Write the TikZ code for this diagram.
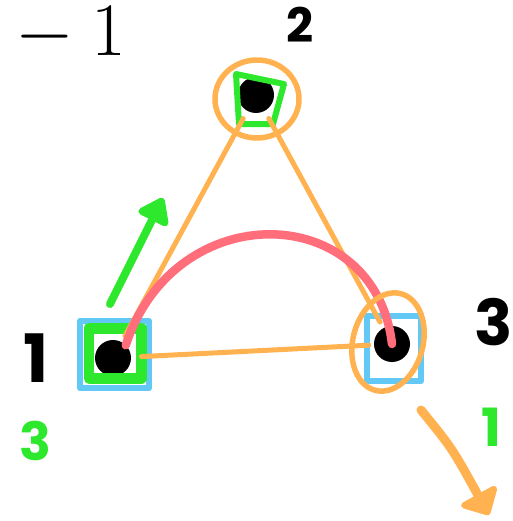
\RequirePackage{fix-cm}
\documentclass[tikz,border=0pt]{standalone}
\usepackage{fontspec}
\newfontfamily\handfont{Poppins}
\usetikzlibrary{arrows.meta}
\definecolor{mark-orange}{HTML}{FFB24F}
\definecolor{mark-red}{HTML}{FF6E7A}
\definecolor{mark-green}{HTML}{2EE82E}
\definecolor{mark-blue}{HTML}{62C8F5}

\begin{document}
\begin{tikzpicture}[x=0.02cm, y=-0.02cm,
    every node/.style={inner sep=0pt, outer sep=0pt},
    blob/.style={circle, fill=black, minimum size=0.72cm},
    ink/.style={line cap=round, line join=round},
    handlabel/.style={font=\handfont\bfseries}]
  \useasboundingbox (0,0) rectangle (513,521);
  \node[anchor=base east, font=\fontsize{43}{43}\selectfont] (val) at (126,55) {$\mathord{}-1$};
  % blue marks go under the vertices
  \draw[ink, color=mark-blue, line width=0.13cm] (80,321) rectangle (149,388);
  \draw[ink, color=mark-blue, line width=0.12cm] (367,316) rectangle (421,381);
  \node[blob] (v1) at (113,358) {};
  \node[blob] (v2) at (256,95) {};
  \node[blob] (v3) at (392,344) {};
  \draw[ink, color=mark-green, line width=0.22cm] (89,328) rectangle (141,378);
  \draw[ink, color=mark-green, line width=0.12cm]
    (236,74) -- (284,84) -- (273,124) -- (239,124) -- cycle;
  % triangle edges
  \draw[ink, color=mark-orange, line width=0.1cm, shorten <=4pt, shorten >=5pt] (v1) -- (v2);
  \draw[ink, color=mark-orange, line width=0.1cm, shorten <=5pt, shorten >=4pt] (v2) -- (v3);
  \draw[ink, color=mark-orange, line width=0.1cm, shorten <=6pt, shorten >=3pt] (v1) -- (v3);
  \draw[ink, color=mark-red, line width=0.17cm]
    (v1.north east) .. controls (175,195) and (375,200) .. (v3.center);
  \draw[ink, color=mark-orange, line width=0.11cm] (257,99) ellipse [x radius=42, y radius=39];
  \draw[ink, color=mark-orange, line width=0.11cm, rotate around={-15:(388,342)}]
    (388,342) ellipse [x radius=35, y radius=50];
  % arrows
  \coordinate (ga) at (110,304);
  \coordinate (gb) at (163,198);
  \draw[ink, color=mark-green, line width=0.16cm,
    -{Triangle[length=0.55cm, width=0.75cm, round]}] (ga) -- (gb);
  \coordinate (oa) at (421,410);
  \coordinate (ob) at (489,515);
  \draw[ink, color=mark-orange, line width=0.18cm,
    -{Triangle[length=0.5cm, width=0.95cm, round]}] (oa) .. controls (452,448) .. (ob);
  % labels
  \node[handlabel, font=\handfont\bfseries\fontsize{38}{38}\selectfont] (lab1) at (36,358) {1};
  \node[handlabel, font=\handfont\bfseries\fontsize{27}{27}\selectfont] (lab2) at (300,25) {2};
  \node[handlabel, font=\handfont\bfseries\fontsize{36}{36}\selectfont] (lab3) at (494,322) {3};
  \node[handlabel, text=mark-green, font=\handfont\bfseries\fontsize{30}{30}\selectfont] (cnt1) at (35,441) {3};
  \node[handlabel, text=mark-green, font=\handfont\bfseries\fontsize{30}{30}\selectfont] (cnt3) at (491,427) {1};
\end{tikzpicture}
\end{document}
